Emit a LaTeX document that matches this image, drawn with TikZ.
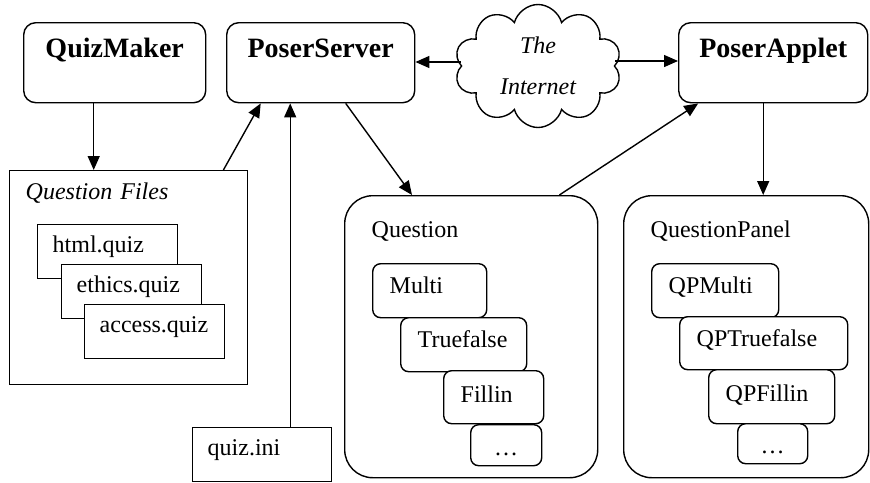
\documentclass[tikz,border=0pt]{standalone}
\usepackage{fontspec}
\setmainfont{Liberation Serif}
\usetikzlibrary{shapes.symbols,arrows.meta}

\begin{document}
\begin{tikzpicture}[x=1pt,y=-1pt,line width=1.4pt,>={Triangle[length=14pt,width=12pt]},
    every node/.style={font=\fontsize{24}{29}\selectfont},
    prog/.style={draw,rounded corners=12pt,anchor=north west,inner sep=0pt,
      text height=35pt,text depth=45pt,font=\fontsize{28}{33}\selectfont\bfseries},
    group/.style={draw,rounded corners=28pt,anchor=north west,inner ysep=0pt,
      inner xsep=27pt,align=left,text height=42pt},
    cls/.style={draw,fill=white,rounded corners=8pt,anchor=north west,inner ysep=0pt,
      inner xsep=17pt,align=left,text height=30pt,text depth=24pt},
    file/.style={draw,fill=white,anchor=north west,inner ysep=0pt,inner xsep=15pt,
      align=left,text height=28pt,text depth=26pt}]
  \useasboundingbox (0,0) rectangle (870,482);

  % programs
  \node (QM) [prog,minimum width=182pt] at (23,22) {QuizMaker};
  \node (PS) [prog,minimum width=188pt] at (226,22) {PoserServer};
  \node (PA) [prog,minimum width=189pt] at (678,22) {PoserApplet};
  \node (NET) [cloud,draw,cloud puffs=10,aspect=1.35,minimum width=167pt,minimum height=123pt,
    inner sep=0pt,align=center,font=\fontsize{24}{29}\selectfont\itshape] at (538,66) {The\\[12pt]Internet};

  % question files
  \node (QF) [file,inner xsep=16pt,text width=206pt,text height=29pt,text depth=185pt,
    font=\fontsize{24}{29}\selectfont\itshape] at (9,170) {Question Files};
  \node (HQ) [file,text width=110pt] at (37,224) {html.quiz};
  \node (EQ) [file,text width=110pt] at (61,264) {ethics.quiz};
  \node (AQ) [file,text width=110pt] at (84,304) {access.quiz};
  \node (INI) [file,text width=109pt] at (192,427) {quiz.ini};

  % server side classes
  \node (Q) [group,text width=199pt,text depth=240pt] at (344,195) {Question};
  \node (M) [cls,text width=80pt] at (372,263) {Multi};
  \node (TF) [cls,text width=92pt] at (400,317) {Truefalse};
  \node (FI) [cls,text width=66pt,text height=32pt,text depth=21pt] at (443,370) {Fillin};
  \node (DOTS) [cls,text width=37pt,align=center,text height=31pt,text depth=10pt] at (470,424) {\dots};

  % applet side classes
  \node (P) [group,text width=191pt,text depth=240pt] at (623,195) {QuestionPanel};
  \node (PM) [cls,text width=93pt] at (651,263) {QPMulti};
  \node (PTF) [cls,text width=134pt,text depth=23pt] at (679,316) {QPTruefalse};
  \node (PFI) [cls,text width=92pt,text height=32pt,text depth=22pt] at (708,369) {QPFillin};
  \node (PDOTS) [cls,text width=36pt,align=center,text height=30pt,text depth=10pt] at (737,423) {\dots};

  \draw[->] ([xshift=-21pt]QM.south) -- ([xshift=-21pt]QM.south |- QF.north);
  \draw[->] ([xshift=-25pt]QF.north east) -- ([xshift=-60pt]PS.south);
  \draw[->] ([xshift=28pt]INI.north) -- ([xshift=28pt]INI.north |- PS.south);
  \draw[->] ([xshift=25pt]PS.south) -- ([xshift=68pt]Q.north west);
  \draw[->] ([yshift=4pt]NET.west) -- ([yshift=4pt]NET.west -| PS.east);
  \draw[->] ([yshift=5pt]NET.east) -- ([yshift=5pt]NET.east -| PA.west);
  \draw[->] ([xshift=-39pt]Q.north east) -- ([xshift=-75pt]PA.south);
  \draw[->] ([xshift=-10pt]PA.south) -- ([xshift=-10pt]PA.south |- P.north);
\end{tikzpicture}
\end{document}
